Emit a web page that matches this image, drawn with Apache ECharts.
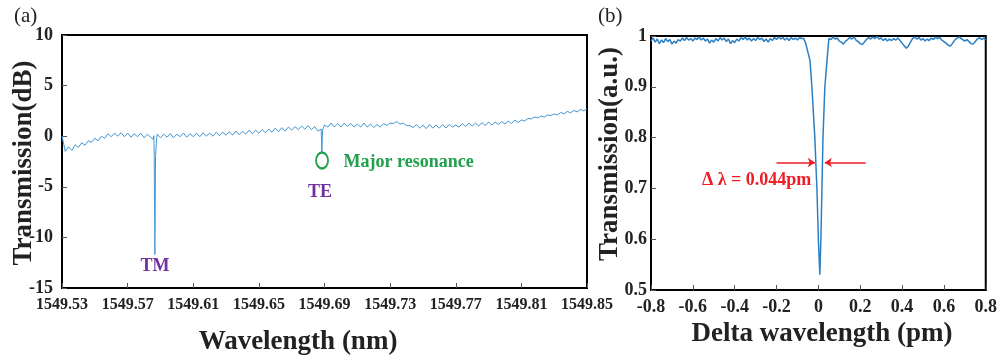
<!DOCTYPE html>
<html>
<head>
<meta charset="utf-8">
<script src="https://cdn.jsdelivr.net/npm/echarts@6/dist/echarts.min.js"></script>
<style>
  html, body { margin: 0; padding: 0; background: #fff; }
  #chart { width: 1000px; height: 360px; }
</style>
</head>
<body>
<div id="chart"></div>
<script>
// (a) 宽谱扫描, 波长网格 1549.530 起, 步长 0.002 nm
const wlStart = 1549.53;
const wlStep = 0.002;
const transA = [
  0.0, -1.5, -1.05, -1.4, -0.85, -1.1, -0.65, -0.9, -0.45, -0.6,
  -0.2, -0.45, 0.0, -0.2, 0.25, -0.05, 0.3, 0.0, 0.35, -0.05,
  0.3, -0.1, 0.25, -0.05, 0.3, -0.15, 0.2, -0.1, 0.05, 0.2,
  -0.15, 0.2, -0.1, 0.25, -0.15, 0.2, -0.05, 0.3, -0.1, 0.25,
  -0.05, 0.3, -0.05, 0.35, 0.0, 0.3, 0.0, 0.4, 0.05, 0.4,
  0.1, 0.45, 0.1, 0.5, 0.15, 0.5, 0.2, 0.6, 0.25, 0.6,
  0.3, 0.65, 0.35, 0.7, 0.4, 0.8, 0.45, 0.85, 0.5, 0.9,
  0.6, 0.95, 0.65, 1.0, 0.7, 1.05, 0.65, 0.95, 0.5, 0.7,
  1.1, 0.9, 1.3, 0.9, 1.25, 0.9, 1.3, 0.95, 1.25, 0.9,
  1.2, 0.9, 1.3, 0.9, 1.2, 0.85, 1.15, 0.9, 1.25, 1.05,
  1.3, 1.25, 1.45, 1.2, 1.3, 1.05, 1.05, 0.85, 1.15, 0.8,
  1.1, 0.75, 1.15, 0.8, 1.1, 0.8, 1.15, 0.8, 1.15, 0.9,
  1.1, 0.9, 1.25, 0.95, 1.3, 1.0, 1.3, 1.0, 1.35, 1.05,
  1.4, 1.1, 1.4, 1.15, 1.45, 1.2, 1.5, 1.25, 1.6, 1.35,
  1.6, 1.5, 1.75, 1.7, 1.9, 1.8, 2.0, 1.9, 2.1, 2.05,
  2.2, 2.1, 2.35, 2.2, 2.45, 2.3, 2.55, 2.4, 2.65, 2.5,
  2.7
];
// TM / TE 谐振点
const tmDip = [[1549.5855, -0.3], [1549.5862, -2.0], [1549.5866, -11.7], [1549.5870, -2.0], [1549.5877, -0.2]];
const teDip = [[1549.6880, 0.5], [1549.6884, -1.6], [1549.6888, 0.6]];

// (b) 归一化透射谱, 网格步长 0.01 pm
const leftStartB = -0.8;
const leftB = [
  0.990, 0.996, 0.988, 0.994, 0.985, 0.992, 0.987, 0.995, 0.989, 0.993,
  0.984, 0.990, 0.986, 0.993, 0.990, 0.996, 0.991, 0.997, 0.992, 0.995,
  0.990, 0.996, 0.993, 0.998, 0.992, 0.996, 0.990, 0.994, 0.986, 0.992,
  0.988, 0.995, 0.990, 0.997, 0.992, 0.996, 0.989, 0.994, 0.985, 0.991,
  0.987, 0.994, 0.990, 0.997, 0.993, 0.998, 0.992, 0.996, 0.990, 0.995,
  0.991, 0.997, 0.993, 0.996, 0.989, 0.994, 0.988, 0.995, 0.991, 0.997,
  0.993, 0.998, 0.994, 0.997, 0.992, 0.996, 0.991, 0.997, 0.993, 0.996,
  0.992, 0.997, 0.995
];
const dipB = [
  [-0.07, 0.995], [-0.06, 0.985], [-0.05, 0.968], [-0.04, 0.952], [-0.031, 0.9],
  [-0.017, 0.8], [-0.007, 0.7], [0.0, 0.6], [0.007, 0.53], [0.012, 0.6],
  [0.017, 0.7], [0.022, 0.8], [0.031, 0.9], [0.041, 0.95], [0.05, 0.995]
];
const rightStartB = 0.06;
const rightB = [
  0.993, 0.998, 0.994, 0.996, 0.990, 0.988, 0.984, 0.990, 0.993, 0.997,
  0.994, 0.998, 0.992, 0.989, 0.985, 0.983, 0.988, 0.993, 0.997, 0.994,
  0.998, 0.995, 0.999, 0.994, 0.996, 0.991, 0.995, 0.990, 0.994, 0.991,
  0.995, 0.992, 0.996, 0.991, 0.986, 0.981, 0.976, 0.980, 0.988, 0.995,
  0.998, 0.994, 0.997, 0.992, 0.995, 0.990, 0.994, 0.991, 0.996, 0.993,
  0.998, 0.995, 0.997, 0.992, 0.989, 0.986, 0.982, 0.980, 0.985, 0.991,
  0.995, 0.998, 0.996, 0.993, 0.990, 0.993, 0.989, 0.985, 0.984, 0.989,
  0.994, 0.997, 0.993, 0.996, 0.992
];

const xTicksA = { min: 1549.53, max: 1549.85, interval: 0.04 };
const yTicksA = { min: -15, max: 10, interval: 5 };
const xTicksB = { min: -0.8, max: 0.8, interval: 0.2 };
const yTicksB = { min: 0.5, max: 1, interval: 0.1 };

function gridPairs(start, step, vals) {
  return vals.map((v, i) => [+(start + i * step).toFixed(4), v]);
}

const seriesA = gridPairs(wlStart, wlStep, transA)
  .concat(tmDip, teDip)
  .sort((p, q) => p[0] - q[0]);
const seriesB = gridPairs(leftStartB, 0.01, leftB)
  .concat(dipB, gridPairs(rightStartB, 0.01, rightB));

const serif = "'Liberation Serif', 'Times New Roman', serif";
const ink = '#222';

function axisCommon(extra) {
  return Object.assign({
    type: 'value',
    axisLine: { show: true, onZero: false, lineStyle: { color: '#000', width: 2 } },
    axisTick: { show: true, inside: true, length: 5, lineStyle: { color: '#555', width: 1 } },
    splitLine: { show: false }
  }, extra);
}

const chart = echarts.init(document.getElementById('chart'));
chart.setOption({
  animation: false,
  backgroundColor: '#fff',
  grid: [
    { left: 62, top: 35, width: 525, height: 253, show: true, borderColor: '#000', borderWidth: 2, backgroundColor: 'transparent' },
    { left: 651, top: 36, width: 335, height: 254, show: true, borderColor: '#000', borderWidth: 2, backgroundColor: 'transparent' }
  ],
  xAxis: [
    axisCommon({
      gridIndex: 0, min: xTicksA.min, max: xTicksA.max, interval: xTicksA.interval,
      axisLabel: { color: ink, fontFamily: serif, fontWeight: 'bold', fontSize: 16, margin: 9,
        formatter: (v) => v.toFixed(2) }
    }),
    axisCommon({
      gridIndex: 1, min: xTicksB.min, max: xTicksB.max, interval: xTicksB.interval,
      axisLabel: { color: ink, fontFamily: serif, fontWeight: 'bold', fontSize: 18, margin: 8 }
    })
  ],
  yAxis: [
    axisCommon({
      gridIndex: 0, min: yTicksA.min, max: yTicksA.max, interval: yTicksA.interval,
      axisLabel: { color: ink, fontFamily: serif, fontWeight: 'bold', fontSize: 18, margin: 9 }
    }),
    axisCommon({
      gridIndex: 1, min: yTicksB.min, max: yTicksB.max, interval: yTicksB.interval,
      axisLabel: { color: ink, fontFamily: serif, fontWeight: 'bold', fontSize: 18, margin: 4,
        formatter: (v) => +v.toFixed(1) + '' }
    })
  ],
  series: [
    {
      type: 'line',
      xAxisIndex: 0, yAxisIndex: 0,
      data: seriesA,
      showSymbol: false,
      lineStyle: { color: '#4296d4', width: 1 },
      markPoint: {
        symbol: 'rect', symbolSize: 1,
        itemStyle: { color: 'transparent' },
        data: [
          { coord: [1549.5867, -12.85], label: { show: true, position: 'inside', formatter: 'TM',
            color: '#7030a0', fontFamily: serif, fontWeight: 'bold', fontSize: 18 } },
          { coord: [1549.6873, -5.53], label: { show: true, position: 'inside', formatter: 'TE',
            color: '#7030a0', fontFamily: serif, fontWeight: 'bold', fontSize: 18 } },
          { coord: [1549.6885, -2.4], symbol: 'path://M0,10 A10,10 0 1,1 20,10 A10,10 0 1,1 0,10 Z',
            symbolSize: [12, 16],
            itemStyle: { color: 'transparent', borderColor: '#1fa04c', borderWidth: 2 },
            label: { show: false } },
          { coord: [1549.7013, -2.55], label: { show: true, position: 'right', distance: 0, formatter: 'Major resonance',
            color: '#1fa04c', fontFamily: serif, fontWeight: 'bold', fontSize: 18 } }
        ]
      }
    },
    {
      type: 'line',
      xAxisIndex: 1, yAxisIndex: 1,
      data: seriesB,
      showSymbol: false,
      lineStyle: { color: '#2c7fc3', width: 1.5 },
      markLine: {
        silent: true,
        symbol: ['none', 'arrow'],
        symbolSize: 7,
        lineStyle: { color: '#ee1c24', width: 1.5, type: 'solid' },
        label: { show: false },
        data: [
          [{ coord: [-0.2, 0.751] }, { coord: [-0.017, 0.751] }],
          [{ coord: [0.226, 0.751] }, { coord: [0.031, 0.751] }]
        ]
      },
      markPoint: {
        symbol: 'rect', symbolSize: 1,
        itemStyle: { color: 'transparent' },
        data: [
          { coord: [-0.295, 0.716], label: { show: true, position: 'inside', formatter: 'Δ λ = 0.044pm',
            color: '#ee1c24', fontFamily: serif, fontWeight: 'bold', fontSize: 18 } }
        ]
      }
    }
  ],
  graphic: [
    { type: 'text', left: 14, top: 6, style: { text: '(a)', font: '21px ' + serif, fill: ink } },
    { type: 'text', left: 598, top: 6, style: { text: '(b)', font: '21px ' + serif, fill: ink } },
    { type: 'text', x: 24, y: 163, rotation: Math.PI / 2,
      style: { text: 'Transmission(dB)', font: 'bold 27px ' + serif, fill: ink, align: 'center', verticalAlign: 'middle' } },
    { type: 'text', x: 610, y: 154, rotation: Math.PI / 2,
      style: { text: 'Transmission(a.u.)', font: 'bold 27px ' + serif, fill: ink, align: 'center', verticalAlign: 'middle' } },
    { type: 'text', x: 298, y: 342,
      style: { text: 'Wavelength (nm)', font: 'bold 27px ' + serif, fill: ink, align: 'center', verticalAlign: 'middle' } },
    { type: 'text', x: 822, y: 334,
      style: { text: 'Delta wavelength (pm)', font: 'bold 27px ' + serif, fill: ink, align: 'center', verticalAlign: 'middle' } }
  ]
});
</script>
</body>
</html>
